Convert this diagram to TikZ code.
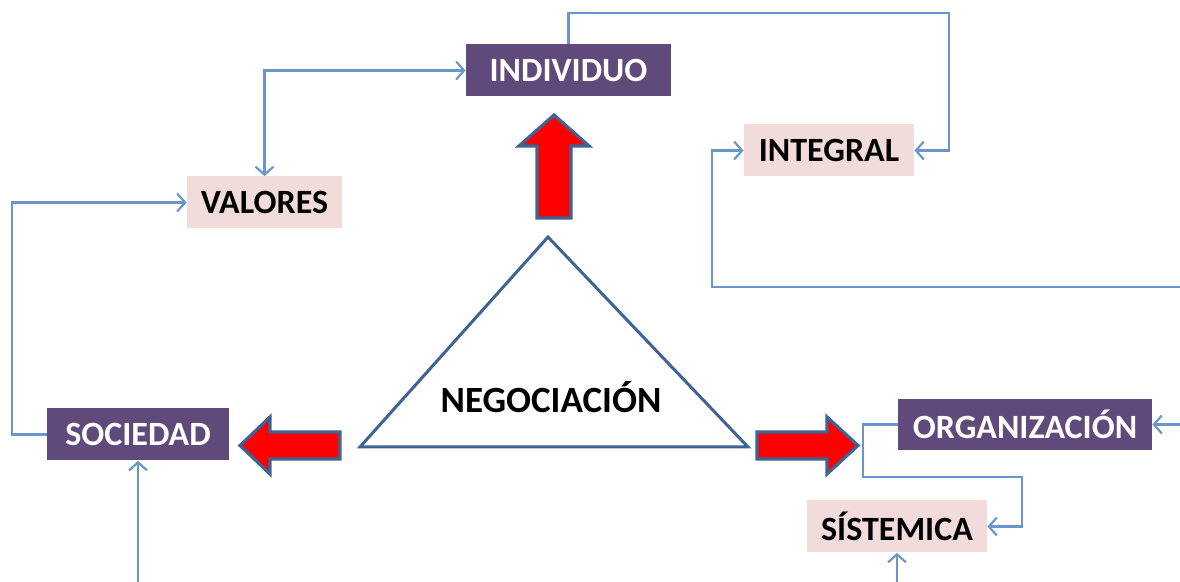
\documentclass[tikz,border=0pt]{standalone}
\usepackage{fontspec}
\setmainfont{Carlito}
\usepackage{xcolor}
\usetikzlibrary{arrows.meta,positioning,calc}

\definecolor{boxpurple}{HTML}{604A7B}
\definecolor{boxpink}{HTML}{F2DCDB}
\definecolor{linkblue}{HTML}{6A96CC}
\definecolor{edgeblue}{HTML}{3D6494}

\begin{document}
\begin{tikzpicture}[
    x=0.5pt, y=-0.5pt,
    >={Straight Barb[length=4pt,width=9pt]},
    darkbox/.style={rectangle, fill=boxpurple, text=white, inner sep=0pt,
        minimum height=26pt, font=\bfseries\fontsize{17}{20}\selectfont},
    lightbox/.style={rectangle, fill=boxpink, text=black, inner sep=0pt,
        minimum height=26pt, font=\bfseries\fontsize{17}{20}\selectfont},
    link/.style={draw=linkblue, line width=1.1pt},
    bigarrow/.style={fill=red, draw=edgeblue, line width=1.6pt, line join=miter},
    triline/.style={draw=edgeblue, line width=1.5pt, line join=miter}
]
    \useasboundingbox (0,0) rectangle (1180,582);

    % boxes
    \node[darkbox, minimum width=102.5pt] (individuo) at (568.5,70.5) {INDIVIDUO};
    \node[lightbox, minimum width=85pt] (integral) at (829,150.5) {INTEGRAL};
    \node[lightbox, minimum width=77.5pt] (valores) at (264.5,202.5) {VALORES};
    \node[darkbox, minimum width=91pt] (sociedad) at (138,434.5) {SOCIEDAD};
    \node[darkbox, minimum width=127pt, minimum height=25.5pt] (organizacion) at (1025,424.5) {ORGANIZACIÓN};
    \node[lightbox, minimum width=90pt] (sistemica) at (897,526.5) {SÍSTEMICA};

    % triangle
    \draw[triline] (548,237) -- (360,447) -- (748,447) -- cycle;
    \node[font=\bfseries\fontsize{18.5}{22}\selectfont] (negociacion) at (551,397) {NEGOCIACIÓN};

    % red block arrows
    \draw[bigarrow] (554,115) -- (589,146) -- (571,146) -- (571,218)
        -- (537,218) -- (537,146) -- (519,146) -- cycle;
    \draw[bigarrow] (240,445.5) -- (270,417) -- (270,432) -- (340,432)
        -- (340,459) -- (270,459) -- (270,474) -- cycle;
    \draw[bigarrow] (858,445.5) -- (827,417) -- (827,432) -- (757,432)
        -- (757,459) -- (827,459) -- (827,474) -- cycle;

    % free ends
    \coordinate (sbot) at (138,582);
    \coordinate (tbot) at (897,582);
    \coordinate (rin1) at (1180,287);
    \coordinate (rin2) at (1180,424.5);

    % connectors
    \draw[link,->] (individuo.north) |- (949,13) |- (integral.east);
    \draw[link,<->] (valores.north) |- (individuo.west);
    \draw[link,->] (sociedad.west) -- (12,434.5) |- (valores.west);
    \draw[link,->] (sbot) -- (sociedad.south);
    \draw[link,->] (rin1) -- (712,287) |- (integral.west);
    \draw[link,->] (rin2) -- (organizacion.east);
    \draw[link,->] (organizacion.west) -- (863,424.5) |- (1022,477) |- (sistemica.east);
    \draw[link,->] (tbot) -- (sistemica.south);
\end{tikzpicture}
\end{document}
